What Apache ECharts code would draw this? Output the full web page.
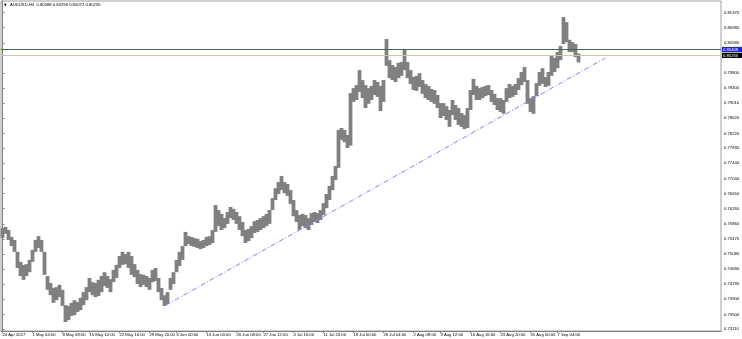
<!DOCTYPE html>
<html><head><meta charset="utf-8">
<script src="https://cdn.jsdelivr.net/npm/echarts@6/dist/echarts.min.js"></script>
<style>html,body{margin:0;padding:0;background:#fff}#c{width:742px;height:339px}</style>
</head><body><div id="c"></div>
<script>
// ---- data (aggregated ~3 H4 bars per entry) ----
const lows = [
0.7549,0.7560,0.7544,0.7528,0.7513,0.7471,0.7450,0.7440,0.7450,0.7460,
0.7487,0.7513,0.7523,0.7513,0.7453,0.7414,0.7400,0.7380,0.7387,0.7395,
0.7372,0.7330,0.7335,0.7346,0.7348,0.7356,0.7361,0.7374,0.7387,0.7408,
0.7400,0.7395,0.7398,0.7408,0.7424,0.7419,0.7408,0.7434,0.7445,0.7471,
0.7479,0.7481,0.7471,0.7453,0.7447,0.7429,0.7421,0.7427,0.7421,0.7414,
0.7434,0.7437,0.7408,0.7387,0.7372,0.7377,0.7414,0.7429,0.7460,0.7476,
0.7492,0.7528,0.7533,0.7528,0.7526,0.7523,0.7520,0.7523,0.7528,0.7531,
0.7536,0.7565,0.7580,0.7570,0.7575,0.7586,0.7601,0.7596,0.7586,0.7570,
0.7554,0.7536,0.7541,0.7549,0.7562,0.7565,0.7570,0.7575,0.7580,0.7586,
0.7622,0.7648,0.7664,0.7674,0.7666,0.7659,0.7638,0.7606,0.7591,0.7570,
0.7580,0.7575,0.7570,0.7583,0.7591,0.7588,0.7596,0.7609,0.7627,0.7648,
0.7674,0.7700,0.7732,0.7805,0.7799,0.7784,0.7790,0.7904,0.7909,0.7930,
0.7914,0.7888,0.7899,0.7909,0.7922,0.7917,0.7880,0.7904,0.7998,0.7966,
0.7961,0.7956,0.7966,0.7972,0.7987,0.7966,0.7951,0.7935,0.7933,0.7943,
0.7925,0.7914,0.7909,0.7904,0.7899,0.7888,0.7862,0.7867,0.7857,0.7839,
0.7870,0.7857,0.7844,0.7839,0.7833,0.7836,0.7883,0.7922,0.7909,0.7909,
0.7914,0.7919,0.7922,0.7904,0.7896,0.7883,0.7878,0.7873,0.7904,0.7914,
0.7917,0.7922,0.7935,0.7948,0.7956,0.7899,0.7878,0.7873,0.7919,0.7946,
0.7951,0.7943,0.7946,0.7972,0.7982,0.7992,0.8013,0.8055,0.8060,0.8034,
0.8034,0.8021,0.8007];
const highs = [
0.7575,0.7578,0.7570,0.7552,0.7544,0.7513,0.7487,0.7479,0.7481,0.7492,
0.7518,0.7544,0.7554,0.7544,0.7513,0.7450,0.7432,0.7419,0.7421,0.7427,
0.7414,0.7374,0.7372,0.7380,0.7387,0.7382,0.7393,0.7408,0.7421,0.7445,
0.7434,0.7432,0.7440,0.7450,0.7460,0.7450,0.7442,0.7466,0.7479,0.7502,
0.7513,0.7507,0.7513,0.7502,0.7481,0.7466,0.7455,0.7453,0.7450,0.7445,
0.7466,0.7471,0.7445,0.7419,0.7400,0.7408,0.7445,0.7460,0.7492,0.7513,
0.7528,0.7565,0.7554,0.7552,0.7549,0.7547,0.7541,0.7544,0.7552,0.7554,
0.7570,0.7635,0.7622,0.7612,0.7601,0.7617,0.7630,0.7625,0.7617,0.7606,
0.7591,0.7570,0.7573,0.7580,0.7593,0.7596,0.7601,0.7606,0.7612,0.7622,
0.7653,0.7679,0.7695,0.7711,0.7695,0.7690,0.7674,0.7648,0.7622,0.7609,
0.7612,0.7609,0.7601,0.7614,0.7617,0.7614,0.7622,0.7640,0.7664,0.7685,
0.7711,0.7737,0.7831,0.7836,0.7831,0.7818,0.7927,0.7940,0.7948,0.7987,
0.7961,0.7948,0.7940,0.7946,0.7961,0.7956,0.7946,0.7961,0.8068,0.8013,
0.8000,0.7995,0.8006,0.8008,0.8042,0.8008,0.7987,0.7969,0.7972,0.7979,
0.7961,0.7951,0.7946,0.7938,0.7935,0.7922,0.7901,0.7901,0.7893,0.7883,
0.7909,0.7896,0.7888,0.7875,0.7870,0.7888,0.7935,0.7964,0.7946,0.7940,
0.7943,0.7946,0.7948,0.7935,0.7925,0.7914,0.7914,0.7909,0.7940,0.7951,
0.7946,0.7951,0.7966,0.7982,0.7995,0.7961,0.7914,0.7919,0.7953,0.7982,
0.7992,0.7969,0.7982,0.8024,0.8019,0.8034,0.8050,0.8125,0.8112,0.8066,
0.8060,0.8055,0.8030];
const yTickValues = [0.73110,0.73500,0.73900,0.74290,0.74680,0.75080,0.75470,0.75860,0.76260,0.76650,0.77040,
  0.77440,0.77830,0.78220,0.78620,0.79010,0.79400,0.79800,0.80580,0.80980,0.81370];
const xLabelIndex = [0,10,20,29,39,49,58,68,78,87,97,107,117,127,137,146,156,166,176,185];
const xLabelText = ['24 Apr 2017','1 May 04:00','8 May 08:00','15 May 12:00','22 May 16:00','29 May 20:00',
  '6 Jun 00:00','13 Jun 04:00','20 Jun 08:00','27 Jun 12:00','4 Jul 16:00','11 Jul 20:00','19 Jul 00:00',
  '26 Jul 04:00','2 Aug 08:00','9 Aug 12:00','16 Aug 16:00','23 Aug 20:00','31 Aug 00:00','7 Sep 04:00'];
const trendX = [54.5, 200.8];
const trendY = [0.7374, 0.8018];
const levelValues = [0.80255, 0.80408];          // last bid, horizontal line
const levelLineColors = ['#c4c4c4', '#4545ff'];
const levelBoxColors = ['#000000', '#2020ff'];
const titleText = 'AUDUSD,H4  0.80088 0.80296 0.80072 0.80255';

const N = 240;
const cats = Array.from({length: N}, (_, i) => String(i));
const labelMap = {};
xLabelIndex.forEach((k, j) => { labelMap[k] = xLabelText[j]; });
const bars = lows.map((l, i) => [i, l, highs[i]]);
const FONT = 'Liberation Sans';
const FS = 4.2;

const chart = echarts.init(document.getElementById('c'), null, {renderer: 'canvas'});
chart.setOption({
  animation: false,
  backgroundColor: '#ffffff',
  grid: {left: 1, right: 21, top: 1, bottom: 8, show: true, borderColor: '#a0a0a0', borderWidth: 1,
    containLabel: false, outerBoundsMode: 'none'},
  xAxis: [{
    type: 'category', data: cats, boundaryGap: true,
    axisLine: {show: true, lineStyle: {color: '#808080', width: 1}},
    axisTick: {show: true, alignWithLabel: true, length: 2, interval: (i) => labelMap[i] !== undefined, lineStyle: {color: '#808080'}},
    axisLabel: {interval: (i) => labelMap[i] !== undefined, formatter: (v, i) => labelMap[i] || '',
      align: 'left', fontSize: FS, color: '#000', margin: 1.5, fontFamily: FONT},
    splitLine: {show: false}
  }, {type: 'value', min: -0.5, max: N - 0.5, show: false}],
  yAxis: {
    type: 'value', position: 'right', min: 0.73066, max: 0.81672,
    splitLine: {show: false},
    axisLine: {show: true, lineStyle: {color: '#808080'}},
    axisTick: {show: true, customValues: yTickValues, length: 2, lineStyle: {color: '#808080'}},
    axisLabel: {customValues: yTickValues, formatter: v => v.toFixed(5), fontSize: FS, color: '#000', margin: 3, fontFamily: FONT}
  },
  series: [{
    type: 'custom', xAxisIndex: 0, data: bars, encode: {x: 0, y: [1, 2]}, silent: true,
    renderItem: function (params, api) {
      const i = api.value(0);
      const top = api.coord([i, api.value(2)]);
      const bot = api.coord([i, api.value(1)]);
      const w = api.size([1, 0])[0];
      return {type: 'rect', shape: {x: top[0] - w / 2 - 0.4, y: top[1], width: w + 0.8, height: Math.max(1, bot[1] - top[1])},
        style: {fill: '#808080', stroke: null}};
    }
  }, {
    type: 'custom', xAxisIndex: 1, data: levelValues.map((v, i) => [0, v, i]), encode: {x: 0, y: 1},
    silent: true, clip: false, z: 5,
    renderItem: function (params, api) {
      const k = api.value(2);
      const v = api.value(1);
      const yy = api.coord([0, v])[1];
      const cs = params.coordSys;
      const row = Math.floor(yy);
      return {type: 'group', children: [
        {type: 'rect', shape: {x: cs.x, y: row, width: cs.width, height: 1}, style: {fill: levelLineColors[k]}},
        {type: 'rect', shape: {x: cs.x + cs.width + 1, y: yy - 2.6, width: 20, height: 5.2}, style: {fill: levelBoxColors[k]}},
        {type: 'text', style: {x: cs.x + cs.width + 2, y: yy + 0.2, text: v.toFixed(5), fill: '#fff',
          fontSize: FS, fontFamily: FONT, verticalAlign: 'middle', align: 'left'}}
      ]};
    }
  }, {
    type: 'line', xAxisIndex: 1, data: trendX.map((x, i) => [x, trendY[i]]), symbol: 'none', color: '#8080ff',
    lineStyle: {color: '#8080ff', width: 1, type: [5, 2, 1, 2]}, silent: true, emphasis: {disabled: true}
  }],
  graphic: [
    {type: 'text', left: 4, top: 3, style: {text: '▼', fontSize: 3.5, fill: '#000', fontFamily: 'DejaVu Sans'}},
    {type: 'text', left: 10, top: 3, style: {text: titleText, fontSize: FS, fill: '#000', fontFamily: FONT}}
  ]
});
</script></body></html>
